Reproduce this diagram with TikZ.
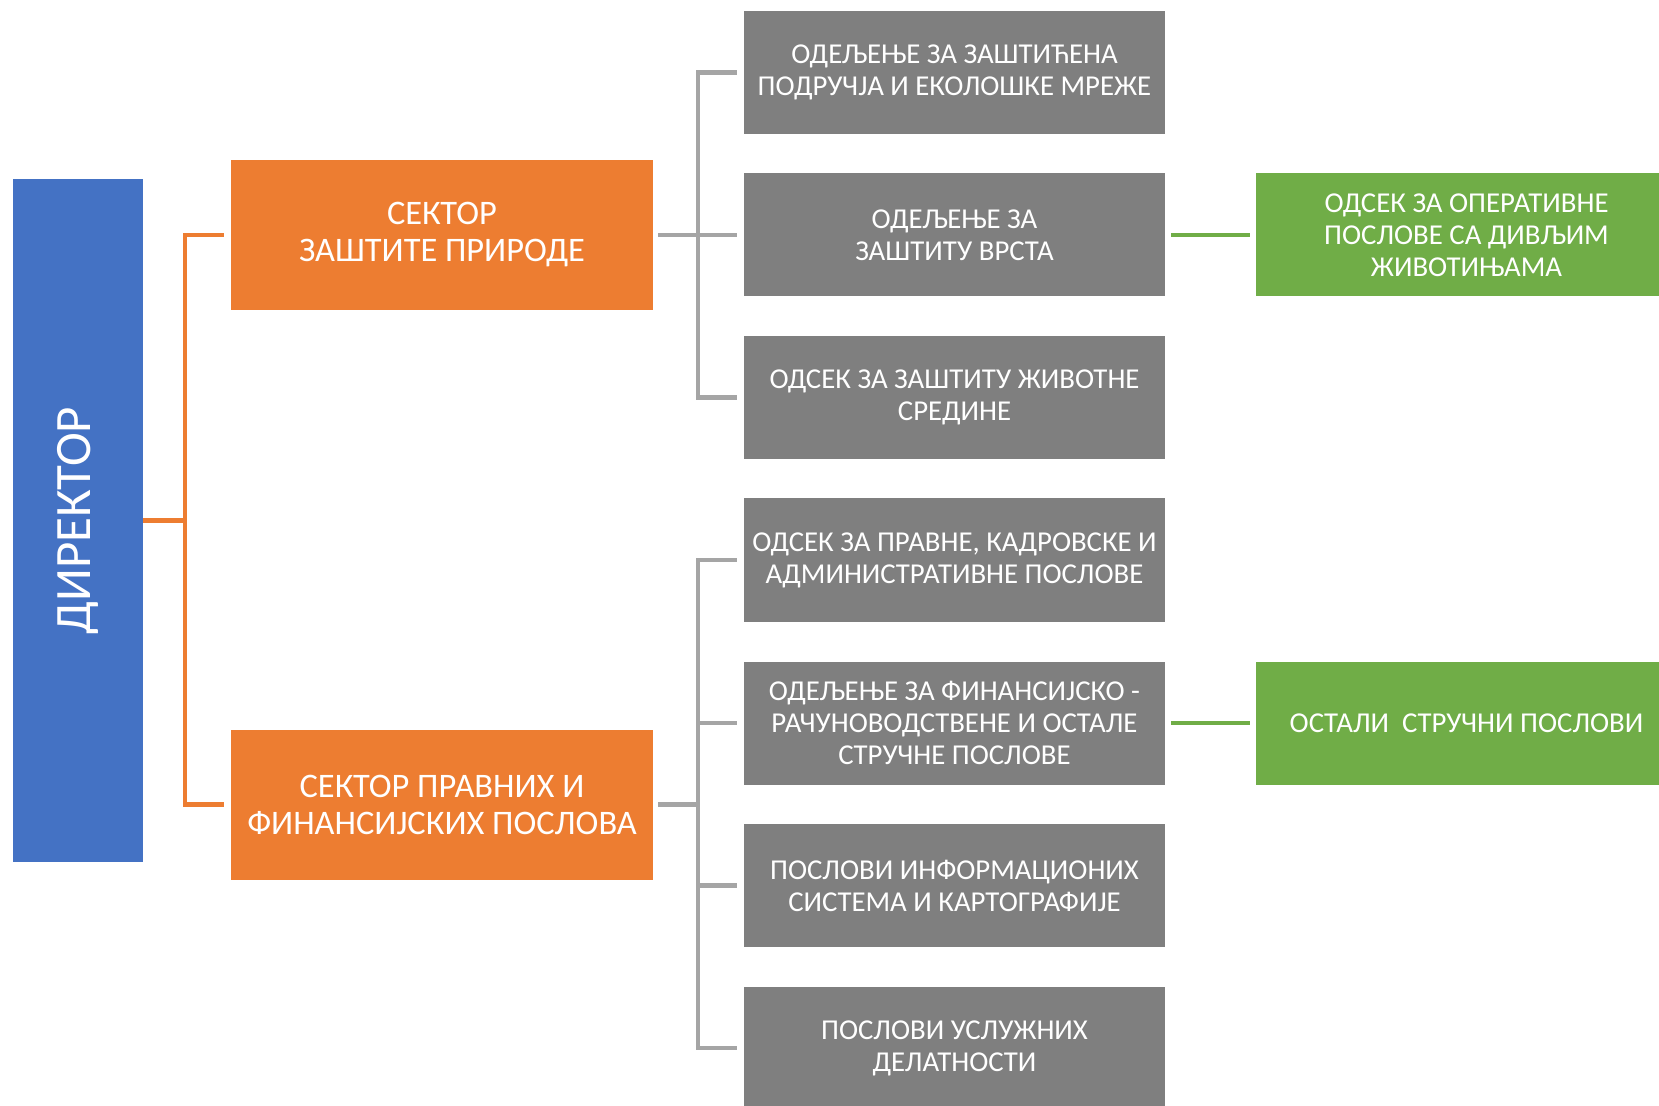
\documentclass[tikz,border=0pt]{standalone}
\usepackage{fontspec}
\setmainfont{Carlito}
\usetikzlibrary{positioning}
\definecolor{dirblue}{HTML}{4472C4}
\definecolor{secorange}{HTML}{ED7D31}
\definecolor{depgrey}{HTML}{7F7F7F}
\definecolor{linegrey}{HTML}{A5A5A5}
\definecolor{subgreen}{HTML}{70AD47}
\tikzstyle{every node}=[inner sep=0pt,text=white,align=center]
\tikzstyle{boss}=[fill=dirblue,minimum width=65pt,minimum height=341.5pt,font=\fontsize{25.5}{30}\selectfont]
\tikzstyle{sector}=[fill=secorange,minimum width=211pt,minimum height=75pt,font=\fontsize{17.2}{18.5}\selectfont]
\tikzstyle{dept}=[fill=depgrey,minimum width=210.5pt,minimum height=61.5pt,font=\fontsize{14.4}{16}\selectfont]
\tikzstyle{unit}=[dept,fill=subgreen]
\tikzstyle{oline}=[draw=secorange,line width=2.1pt]
\tikzstyle{gline}=[draw=linegrey,line width=2.4pt]
\tikzstyle{sline}=[draw=subgreen,line width=2.2pt]

\begin{document}
\begin{tikzpicture}[x=0.5pt,y=-0.5pt]
  \useasboundingbox[fill=white] (0,0) rectangle (1659,1106);
  \node(d)[boss] at (78,520.5){\rotatebox{90}{ДИРЕКТОР}};
  \node(s1)[sector] at (442,235){СЕКТОР\\ЗАШТИТЕ ПРИРОДЕ};
  \node(s2)[sector] at (442,804.5){СЕКТОР ПРАВНИХ И\\ФИНАНСИЈСКИХ ПОСЛОВА};
  \node(o1)[dept] at (954.5,72.5){ОДЕЉЕЊЕ ЗА ЗАШТИЋЕНА\\ПОДРУЧЈА И ЕКОЛОШКЕ МРЕЖЕ};
  \node(o2)[dept] at (954.5,235){ОДЕЉЕЊЕ ЗА\\ЗАШТИТУ ВРСТА};
  \node(o3)[dept] at (954.5,397.5){ОДСЕК ЗА ЗАШТИТУ ЖИВОТНЕ\\СРЕДИНЕ};
  \node(o4)[dept] at (954.5,560){ОДСЕК ЗА ПРАВНЕ, КАДРОВСКЕ И\\АДМИНИСТРАТИВНЕ ПОСЛОВЕ};
  \node(o5)[dept] at (954.5,723){ОДЕЉЕЊЕ ЗА ФИНАНСИЈСКО -\\РАЧУНОВОДСТВЕНЕ И ОСТАЛЕ\\СТРУЧНЕ ПОСЛОВЕ};
  \node(o6)[dept] at (954.5,885.5){ПОСЛОВИ ИНФОРМАЦИОНИХ\\СИСТЕМА И КАРТОГРАФИЈЕ};
  \node(o7)[dept] at (954.5,1048){ПОСЛОВИ УСЛУЖНИХ\\ДЕЛАТНОСТИ};
  \node(g1)[unit] at (1466.5,235){ОДСЕК ЗА ОПЕРАТИВНЕ\\ПОСЛОВЕ СА ДИВЉИМ\\ЖИВОТИЊАМА};
  \node(g2)[unit] at (1466.5,723){ОСТАЛИ~ СТРУЧНИ ПОСЛОВИ};
  % buses
  \coordinate(ob) at (185,520.5);
  \coordinate(gb1) at (698,235);
  \coordinate(gb2) at (698,804.5);
  % director to sectors
  \draw[oline] (d.east) -- (ob);
  \draw[oline] ([xshift=-3.5pt]s1.west) -| (ob) |- ([xshift=-3.5pt]s2.west);
  % sectors to departments
  \draw[gline] ([xshift=2.5pt]s1.east) -- (gb1);
  \draw[gline] ([xshift=-3.5pt]o1.west) -| (gb1) |- ([xshift=-3.5pt]o3.west);
  \draw[gline] (gb1) -- ([xshift=-3.5pt]o2.west);
  \draw[gline] ([xshift=2.5pt]s2.east) -- (gb2);
  \draw[gline] ([xshift=-3.5pt]o4.west) -| (gb2) |- ([xshift=-3.5pt]o7.west);
  \draw[gline] ([xshift=-3.5pt]o5.west) -| (gb2);
  \draw[gline] ([xshift=-3.5pt]o6.west) -| (gb2);
  % departments to units
  \draw[sline] ([xshift=3pt]o2.east) -- ([xshift=-3pt]g1.west);
  \draw[sline] ([xshift=3pt]o5.east) -- ([xshift=-3pt]g2.west);
\end{tikzpicture}
\end{document}
